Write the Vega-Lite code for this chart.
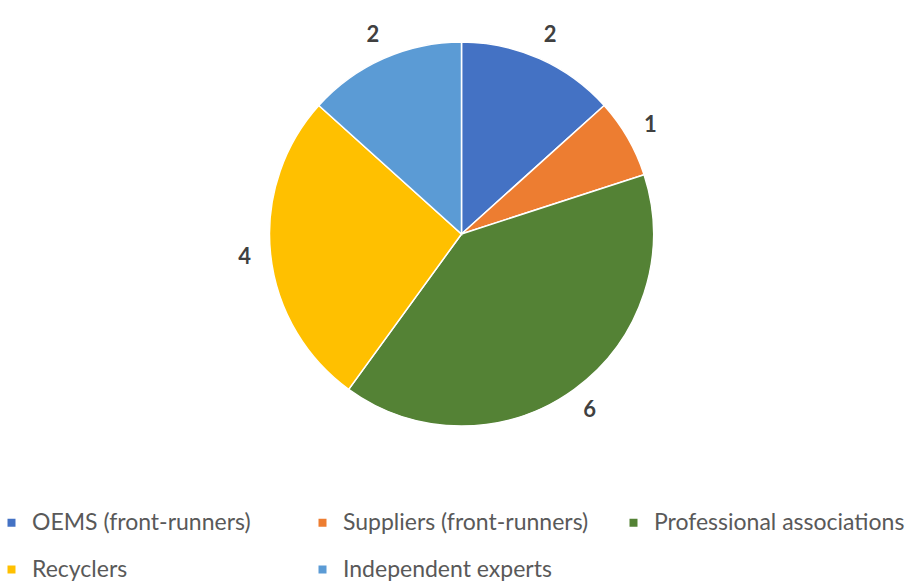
{
  "$schema": "https://vega.github.io/schema/vega-lite/v6.json",
  "width": 923,
  "height": 582,
  "autosize": {"type": "fit", "contains": "padding"},
  "padding": {"left": 0, "right": 0, "top": 5, "bottom": 0},
  "background": "white",
  "data": {
    "values": [
      {"group": "OEMS (front-runners)", "count": 2, "k": 1},
      {"group": "Suppliers (front-runners)", "count": 1, "k": 2},
      {"group": "Professional associations", "count": 6, "k": 3},
      {"group": "Recyclers", "count": 4, "k": 4},
      {"group": "Independent experts", "count": 2, "k": 5}
    ]
  },
  "encoding": {
    "theta": {"field": "count", "type": "quantitative", "stack": true},
    "order": {"field": "k", "type": "quantitative"}
  },
  "layer": [
    {
      "mark": {"type": "arc", "outerRadius": 192, "stroke": "white", "strokeWidth": 1.5},
      "encoding": {
        "color": {
          "field": "group",
          "type": "nominal",
          "scale": {
            "domain": ["OEMS (front-runners)", "Suppliers (front-runners)", "Professional associations", "Recyclers", "Independent experts"],
            "range": ["#4472C4", "#ED7D31", "#548235", "#FFC000", "#5B9BD5"]
          },
          "legend": {
            "title": null,
            "orient": "bottom",
            "direction": "horizontal",
            "columns": 3,
            "gridAlign": "all",
            "symbolType": "square",
            "symbolSize": 64,
            "symbolStrokeWidth": 0,
            "labelFont": "Lato",
            "labelFontSize": 23,
            "labelColor": "#595959",
            "labelLimit": 400,
            "labelOffset": 9,
            "columnPadding": 28,
            "rowPadding": 23,
            "offset": 48
          }
        }
      }
    },
    {
      "mark": {"type": "text", "radius": 218, "font": "Lato", "fontSize": 22, "fontWeight": "bold", "fill": "#404040"},
      "encoding": {
        "text": {"field": "count", "type": "quantitative"}
      }
    }
  ],
  "config": {"view": {"stroke": null}}
}
